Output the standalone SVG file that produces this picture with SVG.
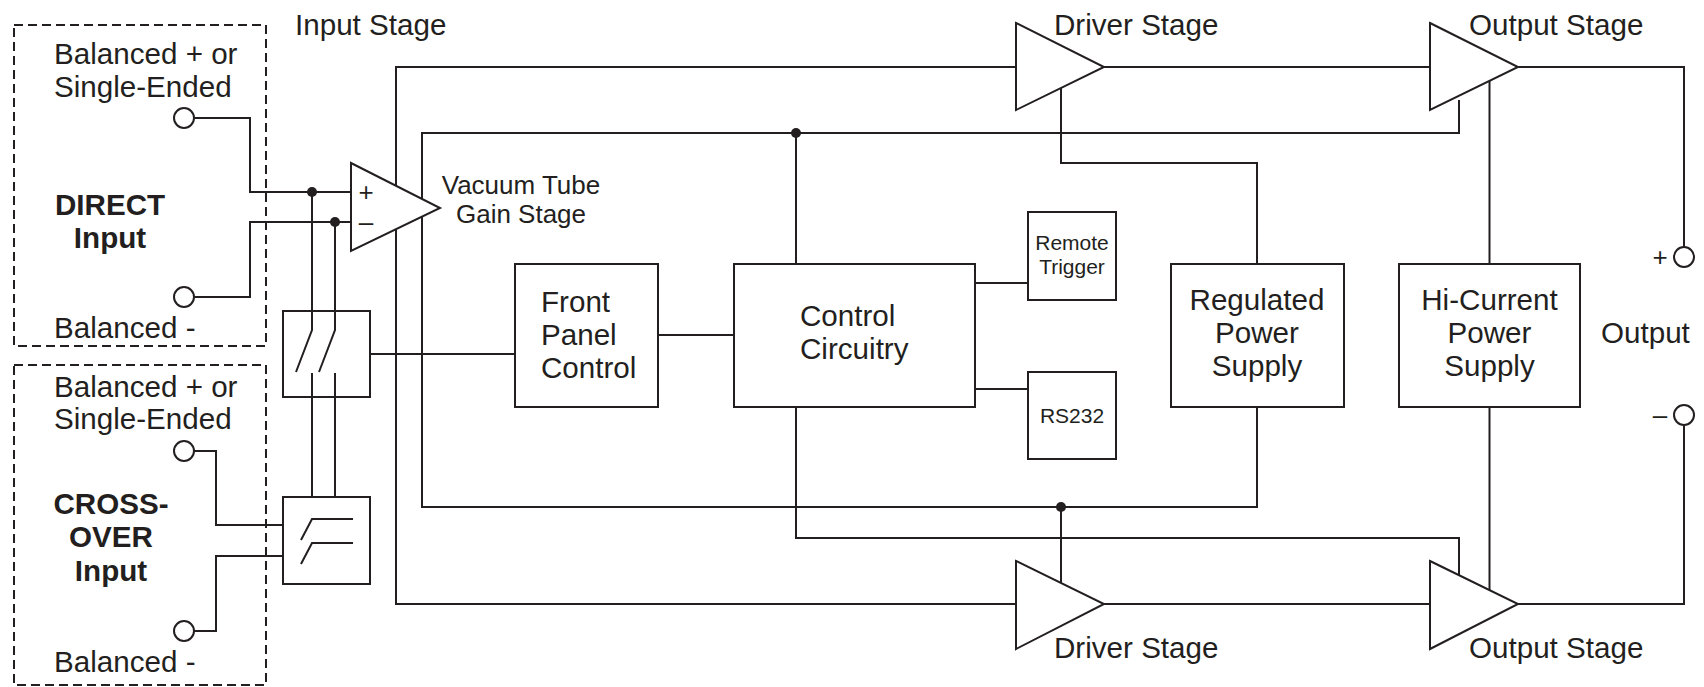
<svg xmlns="http://www.w3.org/2000/svg" width="1704" height="687" viewBox="0 0 1704 687">
<style>
.ln{fill:none;stroke:#231f20;stroke-width:2}
.bx{fill:#fff;stroke:#231f20;stroke-width:2}
.dash{fill:none;stroke:#231f20;stroke-width:2;stroke-dasharray:9 5}
.t{font-family:"Liberation Sans",Arial,Helvetica,sans-serif;fill:#231f20;font-size:29.6px}
.tb{font-family:"Liberation Sans",Arial,Helvetica,sans-serif;fill:#231f20;font-size:29.6px;font-weight:bold;text-anchor:middle}
.ts{font-family:"Liberation Sans",Arial,Helvetica,sans-serif;fill:#231f20;font-size:26px}
.tx{font-family:"Liberation Sans",Arial,Helvetica,sans-serif;fill:#231f20;font-size:21px;text-anchor:middle}
.m{text-anchor:middle}
.dot{fill:#231f20}
.pin{fill:#fff;stroke:#231f20;stroke-width:2}
</style>

<g id="direct-input">
<rect class="dash" x="14" y="25" width="252" height="321"/>
<text class="t" x="54" y="64">Balanced + or</text>
<text class="t" x="54" y="97">Single-Ended</text>
<text class="tb" x="110" y="215">DIRECT</text>
<text class="tb" x="110" y="248">Input</text>
<text class="t" x="54" y="338">Balanced -</text>
</g>

<g id="crossover-input">
<rect class="dash" x="14" y="365" width="252" height="320"/>
<text class="t" x="54" y="397">Balanced + or</text>
<text class="t" x="54" y="429">Single-Ended</text>
<text class="tb" x="111" y="514">CROSS-</text>
<text class="tb" x="111" y="547">OVER</text>
<text class="tb" x="111" y="581">Input</text>
<text class="t" x="54" y="672">Balanced -</text>
</g>

<g id="labels">
<text class="t" x="295" y="35">Input Stage</text>
<text class="t" x="1054" y="35">Driver Stage</text>
<text class="t" x="1469" y="35">Output Stage</text>
<text class="t" x="1054" y="658">Driver Stage</text>
<text class="t" x="1469" y="658">Output Stage</text>
<text class="t" x="1601" y="343">Output</text>
</g>

<g id="connectors">
<path class="ln" d="M194.5,118 H250 V192 H351"/>
<path class="ln" d="M194.5,297 H250 V222 H351"/>
<path class="ln" d="M312,192 V330 L296,372"/>
<path class="ln" d="M335,222 V330 L319,372"/>
<path class="ln" d="M312,373 V497"/>
<path class="ln" d="M335,373 V497"/>
<path class="ln" d="M194,451 H216 V525 H283"/>
<path class="ln" d="M194,631 H216 V556 H283"/>
<path class="ln" d="M1016,67 H396 V604 H1016"/>
<path class="ln" d="M1459,100 V133 H422 V507 H1257 V407"/>
<path class="ln" d="M370,354 H515"/>
<path class="ln" d="M658,335 H734"/>
<path class="ln" d="M796,133 V264"/>
<path class="ln" d="M975,283 H1028"/>
<path class="ln" d="M975,389 H1028"/>
<path class="ln" d="M1061,80 V163 H1257 V264"/>
<path class="ln" d="M796,407 V538 H1459 V580"/>
<path class="ln" d="M1061,507 V590"/>
<path class="ln" d="M1489.5,75 V264"/>
<path class="ln" d="M1489.5,407 V595"/>
<path class="ln" d="M1104,67 H1430"/>
<path class="ln" d="M1104,604 H1430"/>
<path class="ln" d="M1518,67 H1684 V247"/>
<path class="ln" d="M1518,604 H1684 V425"/>
<circle class="dot" cx="312" cy="192" r="5"/>
<circle class="dot" cx="335" cy="222" r="5"/>
<circle class="dot" cx="796" cy="133" r="5"/>
<circle class="dot" cx="1061" cy="507" r="5"/>
</g>

<g id="input-pins">
<circle class="pin" cx="184" cy="118" r="10"/>
<circle class="pin" cx="184" cy="297" r="10"/>
<circle class="pin" cx="184" cy="451" r="10"/>
<circle class="pin" cx="184" cy="631" r="10"/>
</g>

<g id="output-pins">
<circle class="pin" cx="1684" cy="257" r="10"/>
<circle class="pin" cx="1684" cy="415" r="10"/>
<text class="ts m" x="1660" y="266">+</text>
<text class="ts m" x="1660" y="424">–</text>
</g>

<g id="vacuum-tube-gain-stage">
<polygon class="bx" points="351,163 440,208 351,251"/>
<text class="ts m" x="366" y="201">+</text>
<text class="ts m" x="366" y="231">–</text>
<text class="ts m" x="521" y="194">Vacuum Tube</text>
<text class="ts m" x="521" y="223">Gain Stage</text>
</g>

<g id="switch">
<rect class="ln" x="283" y="311" width="87" height="86"/>
</g>

<g id="crossover-filter">
<rect class="ln" x="283" y="497" width="87" height="87"/>
<path class="ln" d="M301,540 L312,519 H353"/>
<path class="ln" d="M301,564 L312,543 H353"/>
</g>

<g id="front-panel-control">
<rect class="bx" x="515" y="264" width="143" height="143"/>
<text class="t" x="541" y="312">Front</text>
<text class="t" x="541" y="345">Panel</text>
<text class="t" x="541" y="378">Control</text>
</g>

<g id="control-circuitry">
<rect class="bx" x="734" y="264" width="241" height="143"/>
<text class="t" x="800" y="326">Control</text>
<text class="t" x="800" y="359">Circuitry</text>
</g>

<g id="remote-trigger">
<rect class="bx" x="1028" y="212" width="88" height="88"/>
<text class="tx" x="1072" y="250">Remote</text>
<text class="tx" x="1072" y="274">Trigger</text>
</g>

<g id="rs232">
<rect class="bx" x="1028" y="372" width="88" height="87"/>
<text class="tx" x="1072" y="423">RS232</text>
</g>

<g id="regulated-power-supply">
<rect class="bx" x="1171" y="264" width="173" height="143"/>
<text class="t m" x="1257" y="310">Regulated</text>
<text class="t m" x="1257" y="343">Power</text>
<text class="t m" x="1257" y="376">Supply</text>
</g>

<g id="hi-current-power-supply">
<rect class="bx" x="1399" y="264" width="181" height="143"/>
<text class="t m" x="1489.5" y="310">Hi-Current</text>
<text class="t m" x="1489.5" y="343">Power</text>
<text class="t m" x="1489.5" y="376">Supply</text>
</g>

<g id="driver-stage-top">
<polygon class="bx" points="1016,23 1104,67 1016,110"/>
</g>
<g id="output-stage-top">
<polygon class="bx" points="1430,23 1518,67 1430,110"/>
</g>
<g id="driver-stage-bottom">
<polygon class="bx" points="1016,561 1104,604 1016,649"/>
</g>
<g id="output-stage-bottom">
<polygon class="bx" points="1430,561 1518,604 1430,649"/>
</g>
</svg>
